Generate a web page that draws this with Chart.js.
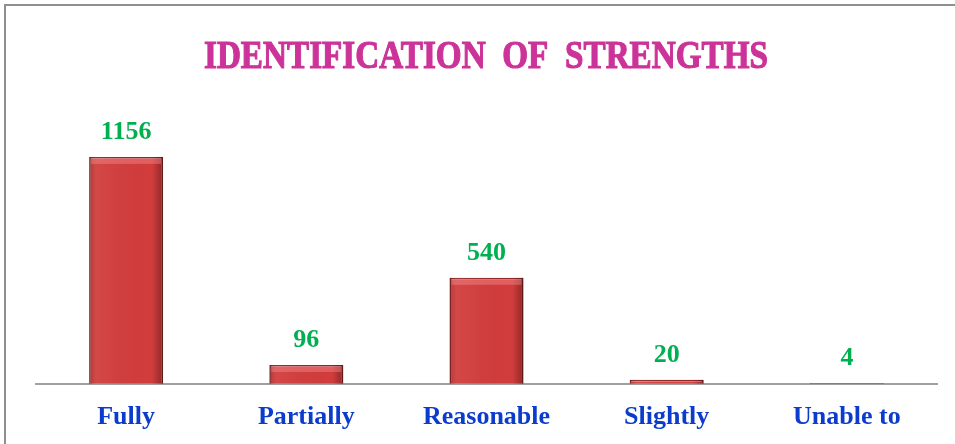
<!DOCTYPE html>
<html>
<head>
<meta charset="utf-8">
<script src="https://cdn.jsdelivr.net/npm/chart.js@4.4.1/dist/chart.umd.min.js"></script>
<style>
  html, body { margin: 0; padding: 0; background: #fff; }
  .wrap { position: relative; width: 955px; height: 444px; }
  .frame {
    position: absolute; left: 4px; top: 4px; right: 0; bottom: 0;
    border-top: 2px solid #8f8f8f; border-left: 2px solid #8f8f8f;
  }
  canvas { position: absolute; left: 0; top: 0; }
</style>
</head>
<body>
<div class="wrap">
  <div class="frame"></div>
  <canvas class="my-chart" width="955" height="444"></canvas>
</div>
<script>
const titleText = "IDENTIFICATION  OF  STRENGTHS";
const categories = ["Fully", "Partially", "Reasonable", "Slightly", "Unable to"];
const counts = [1156, 96, 540, 20, 4];

// title drawn a bit condensed, the original font is narrow and heavy
const titlePlugin = {
  id: "narrowTitle",
  afterDraw(chart) {
    const ctx = chart.ctx;
    ctx.save();
    ctx.font = "bold 41px 'Liberation Serif'";
    ctx.fillStyle = "#cc3399";
    ctx.strokeStyle = "#cc3399";
    ctx.lineWidth = 1.2;
    ctx.textAlign = "center";
    ctx.textBaseline = "alphabetic";
    ctx.translate(486, 68);
    ctx.scale(0.81, 1);
    ctx.fillText(titleText, 0, 0);
    ctx.strokeText(titleText, 0, 0);
    ctx.restore();
  }
};

// bevel look + value labels on top of the bars
const barLabels = {
  id: "barLabels",
  afterDatasetsDraw(chart) {
    const ctx = chart.ctx;
    const meta = chart.getDatasetMeta(0);
    meta.data.forEach((bar, i) => {
      const left = bar.x - bar.width / 2;
      const h = bar.base - bar.y;
      if (h > 2) {
        const g = ctx.createLinearGradient(left, 0, left + bar.width, 0);
        g.addColorStop(0, "rgba(0,0,0,0.18)");
        g.addColorStop(0.12, "rgba(255,255,255,0.06)");
        g.addColorStop(0.85, "rgba(0,0,0,0.0)");
        g.addColorStop(1, "rgba(0,0,0,0.32)");
        ctx.fillStyle = g;
        ctx.fillRect(left, bar.y, bar.width, h);
        ctx.fillStyle = "rgba(255,160,160,0.35)";
        ctx.fillRect(left + 2, bar.y + 1, bar.width - 4, Math.min(6, h / 3));
      }
      ctx.save();
      ctx.font = "bold 26px 'Liberation Serif'";
      ctx.fillStyle = "#00b050";
      ctx.textAlign = "center";
      ctx.textBaseline = "alphabetic";
      ctx.fillText(String(counts[i]), bar.x, bar.y - 18);
      ctx.restore();
    });
  }
};

new Chart(document.querySelector(".my-chart"), {
  type: "bar",
  data: {
    labels: categories,
    datasets: [
      {
        data: counts,
        backgroundColor: "#d23c3c",
        borderColor: "#8e2222",
        borderWidth: 1.5,
        categoryPercentage: 1,
        barPercentage: 0.41,
      },
    ],
  },
  options: {
    responsive: false,
    animation: false,
    layout: {
      padding: { top: 109, left: 36, right: 18, bottom: 1 },
    },
    scales: {
      x: {
        grid: { display: false },
        border: { color: "#a0a0a0", width: 2 },
        ticks: {
          color: "#0b3ccc",
          font: { family: "'Liberation Serif'", size: 26, weight: "bold" },
          padding: 10,
        },
      },
      y: {
        display: false,
        min: 0,
        max: 1400,
      },
    },
    plugins: {
      legend: { display: false },
      tooltip: { enabled: false },
    },
  },
  plugins: [titlePlugin, barLabels],
});
</script>
</body>
</html>
